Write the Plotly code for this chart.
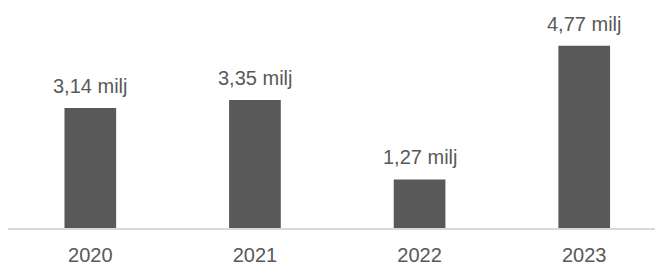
import plotly.graph_objects as go

years = ["2020", "2021", "2022", "2023"]
values = [3.14, 3.35, 1.27, 4.77]
labels = ["3,14 milj", "3,35 milj", "1,27 milj", "4,77 milj"]

FONT = "Liberation Sans, Arial, sans-serif"
GRAY = "#595959"

fig = go.Figure()
fig.add_trace(go.Bar(
    x=years, y=values, width=0.314,
    marker=dict(color=GRAY, line=dict(width=0)),
    hoverinfo="skip",
))

for i, (v, lab) in enumerate(zip(values, labels)):
    fig.add_annotation(
        x=i, y=v, xref="x", yref="y", text=lab, showarrow=False,
        yanchor="bottom", yshift=9,
        font=dict(family=FONT, size=20, color=GRAY),
    )

fig.update_layout(
    width=655, height=266,
    margin=dict(l=8, r=0, t=0, b=36),
    paper_bgcolor="white", plot_bgcolor="white",
    showlegend=False,
    font=dict(family=FONT, size=20, color=GRAY),
)
fig.update_xaxes(
    type="category", range=[-0.5, 3.43],
    showline=True, linecolor="#d9d9d9", linewidth=1.5,
    showgrid=False, ticks="", tickfont=dict(family=FONT, size=20, color=GRAY),
    ticklabelstandoff=8,
)
fig.update_yaxes(
    range=[0, 5.966], visible=False, showgrid=False, zeroline=False,
)

fig.write_html(
    "out.html",
    config={"displayModeBar": False},
    post_script="document.body.style.margin='0';document.body.style.padding='0';",
)
